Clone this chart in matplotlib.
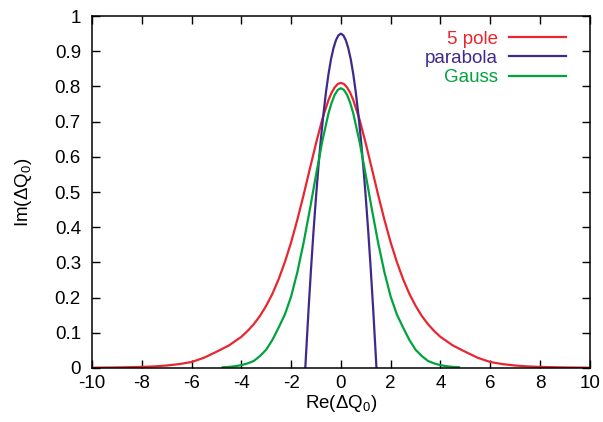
import numpy as np
import matplotlib
matplotlib.use('Agg')
import matplotlib.pyplot as plt

plt.rcParams['font.family'] = ['Liberation Sans', 'DejaVu Sans']
plt.rcParams['mathtext.default'] = 'regular'
plt.rcParams['axes.unicode_minus'] = False

# valores (curvas simetricas en x)
x_pole = [-10, -9, -8, -7.5, -7, -6.5, -6, -5.5, -5, -4.5, -4, -3.75, -3.5, -3.25, -3, -2.75, -2.5, -2.25,
          -2, -1.75, -1.5, -1.25, -1, -0.75, -0.5, -0.375, -0.25, -0.125,
          0, 0.125, 0.25, 0.375, 0.5, 0.75, 1, 1.25, 1.5, 1.75, 2, 2.25, 2.5, 2.75, 3, 3.25, 3.5, 3.75, 4,
          4.5, 5, 5.5, 6, 6.5, 7, 7.5, 8, 9, 10]
y_pole = [0.0008, 0.0015, 0.003, 0.0045, 0.007, 0.011, 0.017, 0.029, 0.046, 0.064, 0.0885, 0.105, 0.1245,
          0.148, 0.177, 0.211, 0.2525, 0.301, 0.357, 0.421, 0.491, 0.565, 0.638, 0.706, 0.761, 0.782,
          0.797, 0.807,
          0.81,
          0.807, 0.797, 0.782, 0.761, 0.706, 0.638, 0.565, 0.491, 0.421, 0.357, 0.301, 0.2525, 0.211, 0.177,
          0.148, 0.1245, 0.105, 0.0885, 0.064, 0.046, 0.029, 0.017, 0.011, 0.007, 0.0045, 0.003, 0.0015, 0.0008]

x_parab = [-1.43, -1.3, -1.2, -1.1, -1.0, -0.9, -0.8, -0.7, -0.6, -0.5, -0.4, -0.3, -0.2, -0.1,
           0, 0.1, 0.2, 0.3, 0.4, 0.5, 0.6, 0.7, 0.8, 0.9, 1.0, 1.1, 1.2, 1.3, 1.43]
y_parab = [0.0, 0.165, 0.281, 0.388, 0.485, 0.574, 0.653, 0.722, 0.783, 0.834, 0.876, 0.908, 0.931, 0.945,
           0.95, 0.945, 0.931, 0.908, 0.876, 0.834, 0.783, 0.722, 0.653, 0.574, 0.485, 0.388, 0.281, 0.165, 0.0]

x_gauss = [-4.75, -4.5, -4.25, -4, -3.75, -3.5, -3.25, -3, -2.75, -2.5, -2.25, -2, -1.75, -1.5, -1.25,
           -1, -0.75, -0.5, -0.375, -0.25, -0.125,
           0, 0.125, 0.25, 0.375, 0.5, 0.75, 1, 1.25, 1.5, 1.75, 2, 2.25, 2.5, 2.75, 3, 3.25, 3.5, 3.75, 4,
           4.25, 4.5, 4.75]
y_gauss = [0.002, 0.003, 0.005, 0.008, 0.013, 0.02, 0.034, 0.052, 0.08, 0.115, 0.152, 0.203, 0.272, 0.355,
           0.449, 0.548, 0.643, 0.723, 0.753, 0.776, 0.79,
           0.795,
           0.79, 0.776, 0.753, 0.723, 0.643, 0.548, 0.449, 0.355, 0.272, 0.203, 0.152, 0.115, 0.08, 0.052,
           0.034, 0.02, 0.013, 0.008, 0.005, 0.003, 0.002]

fig = plt.figure(figsize=(6.03, 4.22), dpi=100)
ax = fig.add_axes([0.1526, 0.128, 0.8254, 0.834])

ax.plot(x_pole, y_pole, color='#e8262f', lw=1.6, label='5 pole')
ax.plot(x_parab, y_parab, color='#3f2a8c', lw=1.6, label='parabola')
ax.plot(x_gauss, y_gauss, color='#00a33c', lw=1.6, label='Gauss')

ax.set_xlim(-10, 10)
ax.set_ylim(0, 1)
ax.set_xticks(np.arange(-10, 11, 2))
ax.set_yticks(np.arange(0, 1.01, 0.1))
ax.set_yticklabels(['0', '0.1', '0.2', '0.3', '0.4', '0.5', '0.6', '0.7', '0.8', '0.9', '1'])
ax.tick_params(direction='in', length=5.5, width=1, top=True, right=True, labelsize=13.5)
ax.tick_params(axis='y', pad=8)
ax.tick_params(axis='x', pad=5)
for s in ax.spines.values():
    s.set_linewidth(1.1)

ax.set_xlabel('Re(ΔQ$_0$)', fontsize=13.5, labelpad=1)
ax.set_ylabel('Im(ΔQ$_0$)', fontsize=13.5, labelpad=15)

ax.legend(loc='upper right', frameon=False, markerfirst=False, labelcolor='linecolor', fontsize=13.5,
          handlelength=3.0, handletextpad=0.6, labelspacing=0.12, bbox_to_anchor=(0.974, 0.991),
          borderaxespad=0.2)

plt.savefig('out.png', dpi=100)
